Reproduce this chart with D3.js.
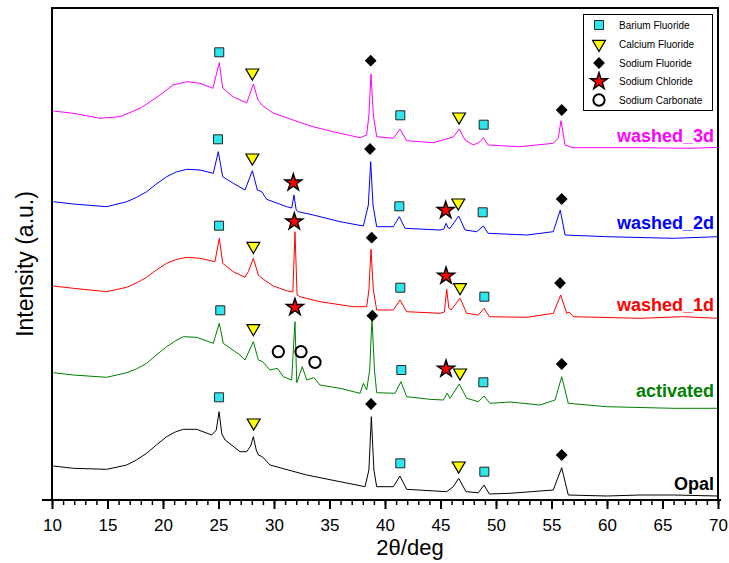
<!DOCTYPE html>
<html>
<head>
<meta charset="utf-8">
<script src="https://cdnjs.cloudflare.com/ajax/libs/d3/7.8.5/d3.min.js"></script>
<style>
body { margin: 0; background: #fff; }
text { font-family: "Liberation Sans", Arial, sans-serif; }
</style>
</head>
<body>
<div id="chart"></div>
<script>
// XRD patterns: [2theta, intensity (a.u., stacked offset included)]
var opal = [[10.12,34],[11.92,31.7],[14.93,30.7],[16.73,35],[17.6,40],[18.53,46.7],[19.4,55],[20.33,63.3],[21.1,68],
  [21.83,70.7],[23.04,70.7],[24.39,65],[24.8,70],[25.05,88.3],[25.3,66],[25.6,60],[26.94,48.3],[27.54,48.3],
  [27.9,54],[28.14,63.3],[28.4,50],[28.59,45],[28.95,43.3],[29.64,35],[32.95,25],[35.95,18.3],[38.2,13.3],
  [38.55,30],[38.77,83.3],[39.0,30],[39.25,13.3],[40.75,13.3],[41.35,24],[41.95,10.7],[45.56,8.3],[46.15,13.3],
  [46.64,21.7],[47.3,8.3],[48.41,7.3],[48.92,15],[49.4,6],[51.26,6.7],[55.16,10],[55.92,32.3],[56.51,5],
  [59.97,4],[62.97,5],[65.97,5],[70,4]];

var activated = [[10.12,127.3],[11.92,125],[14.93,122.7],[16.73,127.3],[17.6,131],[18.53,136.7],[19.4,145],
  [20.33,153.3],[21.1,159],[21.83,163.3],[23.04,162.7],[24.53,156.7],[25.07,176.7],[25.43,156.7],[26.94,145],
  [27.39,140],[28.14,158.3],[28.59,140],[28.98,138.3],[29.64,130],[30.3,131.7],[30.84,123.3],[31.59,120],
  [31.89,178.3],[32.05,117.3],[32.55,133.3],[32.95,120],[33.6,122.3],[34.14,115],[35.95,111.7],[37.75,106.7],
  [38.05,116.7],[38.35,110],[38.62,130],[38.83,181.7],[39.05,130],[39.25,107.3],[40.9,106.7],[41.44,118.3],
  [41.95,103.3],[44.05,100.7],[45.25,100],[45.61,106.7],[45.86,101.7],[46.69,116],[47.36,101.7],[48.41,98.3],
  [48.92,104],[49.46,96.7],[51.26,98],[53.96,95],[55.32,100],[55.92,123.3],[56.51,96.7],[59.97,93.3],
  [65.97,91.7],[70,91.7]];

var washed1d = [[10.12,214],[11.92,211.7],[14.93,208.3],[16.73,212.7],[17.6,217],[18.53,222.7],[19.4,230],
  [20.33,236.7],[21.2,240.5],[22.14,242.7],[23.33,241.7],[24.68,238.3],[25.07,261.7],[25.38,236.7],[26.33,228.3],
  [27.39,222.7],[27.68,228.3],[28.14,241.7],[28.59,225],[29.04,220.7],[29.94,214],[31.14,209.3],[31.7,208],
  [31.89,268.3],[32.08,205],[32.34,203.3],[34.14,198.3],[37.14,193.3],[38.35,193.3],[38.55,210],[38.74,250.7],
  [38.95,210],[39.25,190],[40.75,190],[41.35,200],[41.95,188.3],[44.95,186.7],[45.35,188],[45.56,210.7],
  [45.75,192],[45.95,190],[46.76,201.7],[47.36,186.7],[48.41,185],[48.92,191.7],[49.4,183.3],[52.77,182.7],
  [55.16,186.7],[55.83,205],[56.37,186.7],[56.58,188],[56.96,183.3],[62.97,181.7],[66.87,183.3],[70,181.7]];

var washed2d = [[10.12,298.3],[11.92,296],[14.93,293.3],[16.73,298.3],[17.6,302.5],[18.53,308.3],[19.4,316],
  [20.33,323.3],[21.2,328],[22.14,330.7],[23.33,330],[24.53,326.7],[24.98,348.3],[25.38,323.3],[26.33,316.7],
  [27.39,310],[28.05,329.3],[28.5,310],[28.89,308.3],[29.34,300.7],[31.14,293.3],[31.6,292],[31.8,305],
  [32.0,290],[32.19,288.3],[33.54,285],[35.95,278.3],[38.05,274],[38.5,295],[38.71,338.3],[38.92,295],
  [39.25,273.3],[40.75,273.3],[41.29,283.3],[41.8,271.7],[44.95,270],[45.3,271],[45.5,276.7],[45.7,272],
  [45.86,271.7],[46.64,284],[47.21,270],[48.26,268.3],[48.86,274],[49.3,266.7],[52.77,265],[55.16,268.3],
  [55.79,290],[56.22,265],[59.97,263.3],[65.97,261.7],[70,263.3]];

var washed3d = [[10.12,389],[11.92,386.7],[14.32,381.7],[16.13,383.3],[17.93,391.7],[18.8,398],[19.73,405],
  [20.9,415],[22.14,418.3],[23.33,416.7],[24.5,411.7],[25.07,437.3],[25.38,412],[26.31,403.3],[27.54,397],
  [28.14,416],[28.56,400],[29.01,394],[29.91,387],[31.71,380],[33.51,373.3],[35.32,368.3],[37.75,362.3],
  [38.35,365],[38.55,385],[38.74,426],[38.95,385],[39.25,363.3],[40.75,361.7],[41.35,371],[41.95,359.3],
  [44.35,357.3],[46.15,363],[46.69,371],[47.21,360],[47.95,355],[48.5,357.7],[48.86,362.3],[49.3,355],
  [52.16,353.3],[55.16,356.7],[55.61,362],[55.86,379.3],[56.22,355],[56.94,352.3],[62.97,352.3],[67.48,351.7],
  [70,352.7]];

var seriesNames = ["Opal", "activated", "washed_1d", "washed_2d", "washed_3d"];
var seriesColors = ["#000000", "#008000", "#ff0000", "#0000ff", "#ff00ff"];

// phase markers: [2theta, intensity]
var bariumF = [[25.07,447.7],[41.38,384.7],[48.89,375.3],[24.95,360.7],[41.29,293.7],[48.8,287.7],
  [25.05,274.3],[41.38,212.3],[48.95,203.3],[25.16,189.7],[41.47,130],[48.86,117.7],
  [25.05,102.7],[41.38,36.7],[48.95,28.3]];
var calciumF = [[28.05,427.3],[46.67,383.3],[28.05,342.3],[46.6,297.3],[28.14,254],[46.76,212.7],
  [28.14,171.7],[46.76,127.3],[28.17,77.3],[46.64,34.3]];
var sodiumF = [[38.71,439.3],[55.92,390],[38.65,351],[55.92,301],[38.8,262.3],[55.77,217],
  [38.86,184.3],[55.92,136],[38.74,96],[55.92,45]];
var sodiumCl = [[31.74,317.3],[45.47,289.7],[31.83,278.3],[45.5,224],[31.89,192.7],[45.5,131]];
var sodiumCarb = [[30.39,148.3],[32.43,148.3],[33.69,137.7]];

var legendNames = ["Barium Fluoride", "Calcium Fluoride", "Sodium Fluoride", "Sodium Chloride", "Sodium Carbonate"];
var xTicks = [10, 15, 20, 25, 30, 35, 40, 45, 50, 55, 60, 65, 70];

var W = 729, H = 563;
var margin = {top: 8, right: 11, bottom: 63, left: 52};

var svg = d3.select("#chart").append("svg")
  .attr("width", W).attr("height", H)
  .style("background", "#fff");

var x = d3.scaleLinear().domain([10, 70]).range([margin.left, W - margin.right]);
var y = d3.scaleLinear().domain([0, 492]).range([H - margin.bottom, margin.top]);

// traces
var line = d3.line()
  .x(function(d) { return x(d[0]); })
  .y(function(d) { return y(d[1]); });

var traces = [opal, activated, washed1d, washed2d, washed3d];
traces.forEach(function(t, i) {
  svg.append("path")
    .datum(t)
    .attr("d", line)
    .attr("fill", "none")
    .attr("stroke", seriesColors[i])
    .attr("stroke-width", 1)
    .attr("stroke-linejoin", "round");
});

// series labels (right side)
var labelBase = [10.5, 103, 189, 271, 358.5];
seriesNames.forEach(function(n, i) {
  svg.append("text")
    .attr("x", 714)
    .attr("y", y(labelBase[i]))
    .attr("text-anchor", "end")
    .attr("font-size", 18)
    .attr("font-weight", "bold")
    .attr("fill", seriesColors[i])
    .text(n);
});

// marker styles
function markerPath(kind) {
  if (kind == 0) return d3.symbol(d3.symbolSquare, 81)();
  if (kind == 1) return d3.symbol(d3.symbolTriangle, 72)();
  if (kind == 2) return d3.symbol(d3.symbolSquare, 54)();
  if (kind == 3) return d3.symbol(d3.symbolStar, 90)();
  return d3.symbol(d3.symbolCircle, 100)();
}
var markerFill = ["#2ee6ee", "#ffff00", "#000000", "#ff0000", "none"];
var markerRot = [0, 180, 45, 0, 0];
var markerStroke = [1, 1.2, 1, 1.4, 2];

function drawMarker(g, kind, px, py) {
  g.append("path")
    .attr("d", markerPath(kind))
    .attr("transform", "translate(" + px + "," + py + ") rotate(" + markerRot[kind] + ")")
    .attr("fill", markerFill[kind])
    .attr("stroke", kind == 0 ? "#222" : "#000")
    .attr("stroke-width", markerStroke[kind])
    .attr("stroke-linejoin", "miter");
}

var markers = svg.append("g");
[bariumF, calciumF, sodiumF, sodiumCl, sodiumCarb].forEach(function(arr, k) {
  arr.forEach(function(d) { drawMarker(markers, k, x(d[0]), y(d[1])); });
});

// frame
svg.append("rect")
  .attr("x", margin.left).attr("y", margin.top)
  .attr("width", W - margin.right - margin.left)
  .attr("height", H - margin.bottom - margin.top)
  .attr("fill", "none")
  .attr("stroke", "#000")
  .attr("stroke-width", 2);

// x axis
var xAxisMinor = svg.append("g")
  .attr("transform", "translate(0," + (H - margin.bottom) + ")")
  .call(d3.axisBottom(x).tickValues(d3.range(10, 71, 1)).tickSize(5).tickFormat(""));
xAxisMinor.select(".domain").remove();
xAxisMinor.selectAll("line").attr("stroke-width", 1.5);

var xAxis = svg.append("g")
  .attr("transform", "translate(0," + (H - margin.bottom) + ")")
  .call(d3.axisBottom(x).tickValues(xTicks).tickSize(9).tickPadding(10).tickSizeOuter(0));
xAxis.select(".domain").attr("stroke-width", 2).attr("d", "M42,0H721");
xAxis.selectAll("line").attr("stroke-width", 2);
xAxis.selectAll("text")
  .attr("font-size", 17)
  .attr("font-family", "'Liberation Sans', Arial, sans-serif")
  .attr("fill", "#000");

// axis titles
svg.append("text")
  .attr("x", 410).attr("y", 555)
  .attr("text-anchor", "middle")
  .attr("font-size", 22)
  .text("2θ/deg");

svg.append("text")
  .attr("transform", "translate(33,264) rotate(-90)")
  .attr("text-anchor", "middle")
  .attr("font-size", 23)
  .text("Intensity (a.u.)");

// legend
var legend = svg.append("g");
legend.append("rect")
  .attr("x", 583.5).attr("y", 14.5)
  .attr("width", 129).attr("height", 96)
  .attr("fill", "#fff")
  .attr("stroke", "#000")
  .attr("stroke-width", 1);
var legendRowY = [25, 44, 63, 81.5, 100];
legendNames.forEach(function(n, k) {
  drawMarker(legend, k, 599, legendRowY[k]);
  legend.append("text")
    .attr("x", 619).attr("y", legendRowY[k] + 3.5)
    .attr("font-size", 10)
    .text(n);
});
</script>
</body>
</html>
